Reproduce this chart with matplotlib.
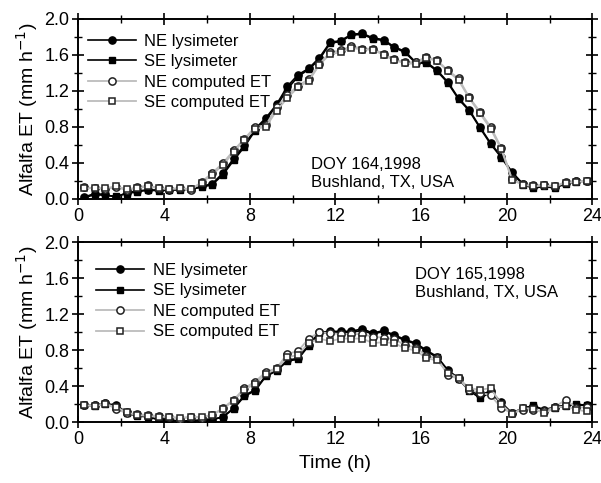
import numpy as np
import matplotlib
matplotlib.use("Agg")
import matplotlib.pyplot as plt
from matplotlib.ticker import MultipleLocator

plt.rcParams['font.family'] = ['Liberation Sans', 'DejaVu Sans']

hours = np.arange(0.25, 24.0, 0.5)

# DOY 164
ne_lys_164 = [0.02, 0.06, 0.05, 0.02, 0.07, 0.09, 0.10, 0.10, 0.10, 0.11, 0.11, 0.14,
              0.17, 0.29, 0.45, 0.60, 0.78, 0.90, 1.05, 1.25, 1.38, 1.45, 1.57, 1.74,
              1.76, 1.83, 1.84, 1.79, 1.77, 1.69, 1.64, 1.52, 1.52, 1.43, 1.30, 1.12,
              0.99, 0.80, 0.62, 0.47, 0.30, 0.17, 0.13, 0.15, 0.13, 0.18, 0.20, 0.20]
se_lys_164 = [0.01, 0.05, 0.04, 0.03, 0.06, 0.08, 0.10, 0.09, 0.10, 0.10, 0.11, 0.13,
              0.16, 0.27, 0.43, 0.58, 0.76, 0.88, 1.03, 1.22, 1.36, 1.44, 1.55, 1.73,
              1.75, 1.82, 1.83, 1.78, 1.76, 1.68, 1.63, 1.51, 1.51, 1.42, 1.29, 1.11,
              0.98, 0.79, 0.61, 0.46, 0.29, 0.16, 0.12, 0.14, 0.12, 0.17, 0.19, 0.20]
ne_comp_164 = [0.13, 0.12, 0.11, 0.13, 0.10, 0.13, 0.15, 0.12, 0.11, 0.12, 0.10, 0.19,
               0.29, 0.40, 0.54, 0.67, 0.80, 0.82, 1.02, 1.15, 1.26, 1.33, 1.50, 1.63,
               1.65, 1.70, 1.67, 1.67, 1.61, 1.55, 1.52, 1.52, 1.58, 1.54, 1.43, 1.34,
               1.13, 0.97, 0.80, 0.57, 0.22, 0.17, 0.15, 0.16, 0.14, 0.19, 0.20, 0.20]
se_comp_164 = [0.12, 0.12, 0.12, 0.14, 0.11, 0.12, 0.14, 0.12, 0.11, 0.12, 0.11, 0.18,
               0.27, 0.38, 0.52, 0.66, 0.78, 0.80, 0.98, 1.12, 1.24, 1.31, 1.49, 1.61,
               1.63, 1.68, 1.66, 1.66, 1.60, 1.54, 1.51, 1.50, 1.57, 1.53, 1.42, 1.32,
               1.12, 0.95, 0.78, 0.55, 0.21, 0.16, 0.14, 0.15, 0.14, 0.18, 0.19, 0.20]

# DOY 165
ne_lys_165 = [0.19, 0.19, 0.21, 0.19, 0.11, 0.08, 0.06, 0.03, 0.03, 0.01, 0.01, 0.03,
              0.03, 0.06, 0.16, 0.30, 0.36, 0.52, 0.58, 0.69, 0.71, 0.86, 1.00, 1.01,
              1.01, 1.01, 1.04, 0.99, 1.02, 0.97, 0.92, 0.88, 0.80, 0.73, 0.58, 0.49,
              0.36, 0.30, 0.35, 0.22, 0.10, 0.16, 0.18, 0.14, 0.17, 0.19, 0.19, 0.19]
se_lys_165 = [0.19, 0.18, 0.20, 0.18, 0.10, 0.07, 0.06, 0.03, 0.02, 0.01, 0.02, 0.02,
              0.03, 0.06, 0.15, 0.29, 0.35, 0.51, 0.57, 0.68, 0.70, 0.85, 0.99, 1.00,
              1.00, 1.00, 1.02, 0.98, 1.01, 0.96, 0.91, 0.87, 0.79, 0.72, 0.57, 0.48,
              0.35, 0.27, 0.33, 0.21, 0.10, 0.15, 0.19, 0.13, 0.16, 0.18, 0.20, 0.19]
ne_comp_165 = [0.19, 0.19, 0.21, 0.15, 0.10, 0.09, 0.08, 0.07, 0.06, 0.04, 0.06, 0.05,
               0.08, 0.16, 0.25, 0.38, 0.45, 0.56, 0.60, 0.76, 0.79, 0.93, 1.00, 0.99,
               0.98, 0.98, 0.98, 0.95, 0.94, 0.92, 0.86, 0.83, 0.74, 0.71, 0.53, 0.48,
               0.36, 0.33, 0.30, 0.16, 0.10, 0.14, 0.14, 0.12, 0.17, 0.25, 0.16, 0.17]
se_comp_165 = [0.19, 0.18, 0.20, 0.17, 0.11, 0.08, 0.07, 0.06, 0.06, 0.05, 0.06, 0.06,
               0.08, 0.15, 0.24, 0.36, 0.43, 0.54, 0.59, 0.72, 0.75, 0.88, 0.93, 0.90,
               0.93, 0.93, 0.93, 0.88, 0.89, 0.88, 0.82, 0.80, 0.71, 0.69, 0.55, 0.49,
               0.38, 0.36, 0.38, 0.20, 0.09, 0.16, 0.15, 0.10, 0.16, 0.18, 0.14, 0.12]

labels = ["NE lysimeter", "SE lysimeter", "NE computed ET", "SE computed ET"]
x_ticks = [0, 4, 8, 12, 16, 20, 24]
y_ticks = [0.0, 0.4, 0.8, 1.2, 1.6, 2.0]

fig = plt.figure(figsize=(6.01, 4.83), dpi=100)
ax1 = fig.add_axes([0.1306, 0.588, 0.855, 0.3727])
ax2 = fig.add_axes([0.1306, 0.1257, 0.855, 0.3727])

gray = "#bcbcbc"
ms = 5.2


def draw(ax, nel, sel, nec, sec, note, note_xy, leg_anchor):
    ax.plot(hours, nel, color="black", lw=1.2, marker="o", ms=ms,
            mfc="black", mec="black", label=labels[0], zorder=3)
    ax.plot(hours, sel, color="black", lw=1.2, marker="s", ms=ms - 0.4,
            mfc="black", mec="black", label=labels[1], zorder=3)
    ax.plot(hours, nec, color=gray, lw=1.3, marker="o", ms=ms,
            mfc="white", mec="#222222", mew=1.1, label=labels[2], zorder=4)
    ax.plot(hours, sec, color=gray, lw=1.3, marker="s", ms=ms - 0.4,
            mfc="white", mec="#222222", mew=1.1, label=labels[3], zorder=4)
    ax.set_xlim(0, 24)
    ax.set_ylim(0, 2.0)
    ax.set_xticks(x_ticks)
    ax.set_yticks(y_ticks)
    ax.set_yticklabels([f"{v:.1f}" for v in y_ticks])
    ax.xaxis.set_minor_locator(MultipleLocator(2))
    ax.yaxis.set_minor_locator(MultipleLocator(0.2))
    ax.tick_params(which="major", direction="inout", length=9, width=1.2,
                   top=True, right=True, labelsize=13, pad=2)
    ax.tick_params(which="minor", direction="inout", length=6, width=1.0,
                   top=True, right=True)
    for s in ax.spines.values():
        s.set_linewidth(1.4)
    ax.set_ylabel("Alfalfa ET (mm h$^{-1}$)", fontsize=14, labelpad=3)
    ax.text(note_xy[0], note_xy[1], note, transform=ax.transAxes,
            fontsize=12, va="top", ha="left", linespacing=1.25)
    ax.legend(loc="upper left", bbox_to_anchor=leg_anchor, frameon=False,
              fontsize=12, handlelength=2.9, handletextpad=0.5,
              labelspacing=0.33, borderaxespad=0.0, borderpad=0.0)


draw(ax1, ne_lys_164, se_lys_164, ne_comp_164, se_comp_164,
     "DOY 164,1998\nBushland, TX, USA", (0.452, 0.235), (0.018, 0.918))
draw(ax2, ne_lys_165, se_lys_165, ne_comp_165, se_comp_165,
     "DOY 165,1998\nBushland, TX, USA", (0.655, 0.865), (0.034, 0.885))
ax2.set_xlabel("Time (h)", fontsize=14, labelpad=5)

fig.savefig("out.png", dpi=100)
